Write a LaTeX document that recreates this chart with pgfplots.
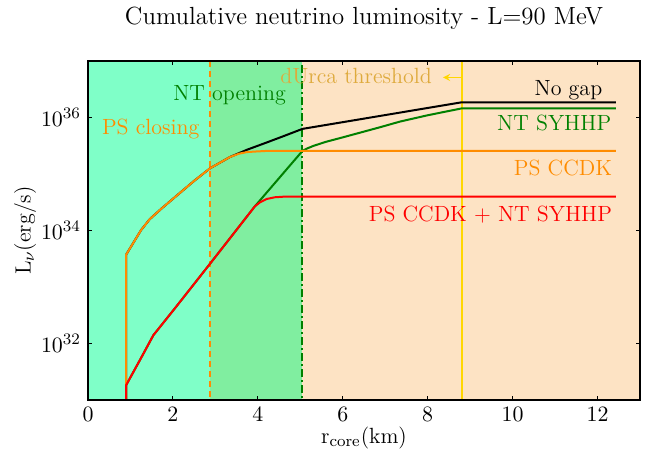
\documentclass[border=0pt]{standalone}
\usepackage{pgfplots}
\pgfplotsset{compat=1.18}
\definecolor{aqua}{RGB}{127,255,200}
\definecolor{midgreen}{RGB}{128,238,160}
\definecolor{peach}{RGB}{253,227,196}
\definecolor{dorange}{RGB}{255,140,0}
\definecolor{mgreen}{RGB}{0,128,0}
\definecolor{gold}{RGB}{255,215,0}
\definecolor{goldtext}{RGB}{222,170,60}

\begin{document}
\begin{tikzpicture}
\begin{axis}[
  scale only axis, width=276pt, height=169.5pt,
  xmin=0, xmax=13, ymode=log, ymin=1e31, ymax=1e37,
  xtick={0,2,...,12}, ytick={1e32,1e34,1e36}, yminorticks=false,
  tick align=inside, major tick length=2.2pt,
  axis on top, axis line style={line width=0.6pt},
  every tick/.style={black, line width=0.5pt},
  tick label style={font=\fontsize{11}{13}\selectfont},
  label style={font=\fontsize{11}{13}\selectfont},
  title={Cumulative neutrino luminosity - L=90 MeV},
  title style={font=\fontsize{12.4}{14}\selectfont, at={(axis description cs:0.5,1)}, anchor=base, yshift=12.5pt},
  xlabel={r$_{\mathrm{core}}$(km)},
  xlabel style={at={(axis description cs:0.5,-0.111)}, anchor=center},
  ylabel={L$_\nu$(erg/s)},
  ylabel style={at={(axis description cs:-0.114,0.5)}, anchor=center},
]
% background regions
\addplot[fill=aqua, draw=none] coordinates {(0,1e30) (2.88,1e30) (2.88,1e38) (0,1e38)} -- cycle;
\addplot[fill=midgreen, draw=none] coordinates {(2.88,1e30) (5.05,1e30) (5.05,1e38) (2.88,1e38)} -- cycle;
\addplot[fill=peach, draw=none] coordinates {(5.05,1e30) (13.5,1e30) (13.5,1e38) (5.05,1e38)} -- cycle;

% thresholds
\addplot[dorange, line width=1pt, dash pattern=on 3pt off 2pt] coordinates {(2.88,1e30) (2.88,1e38)};
\addplot[mgreen, line width=1pt, dash pattern=on 4pt off 1.5pt on 1pt off 1.5pt] coordinates {(5.05,1e30) (5.05,1e38)};
\addplot[gold, line width=1pt] coordinates {(8.8,1e30) (8.8,1e38)};

% No gap
\addplot[black, line width=1pt] coordinates {
  (0.895,1e30) (0.895,3.72e33) (1.25,1.02e34) (1.45,1.58e34) (1.70,2.34e34)
  (1.95,3.39e34) (2.17,4.68e34) (2.5,7.59e34) (2.87,1.26e35) (3.1,1.58e35)
  (3.34,2.0e35) (3.74,2.69e35) (4.21,3.63e35) (4.6,4.68e35) (5.05,6.31e35)
  (8.79,1.86e36) (12.43,1.86e36)};
% NT SYHHP
\addplot[mgreen, line width=1pt] coordinates {
  (0.895,1e30) (0.895,1.82e31) (1.26,5.75e31) (1.54,1.41e32) (2.01,3.89e32)
  (2.64,1.55e33) (2.87,2.57e33) (3.4,8.3e33) (3.93,2.69e34) (5.05,2.57e35)
  (5.15,2.82e35) (5.31,3.16e35) (5.6,3.72e35) (6.0,4.47e35) (6.88,6.76e35)
  (7.35,8.51e35) (8.0,1.10e36) (8.79,1.45e36) (12.43,1.45e36)};
% PS CCDK
\addplot[dorange, line width=1pt] coordinates {
  (0.895,1e30) (0.895,3.72e33) (1.25,1.02e34) (1.45,1.58e34) (1.70,2.34e34)
  (1.95,3.39e34) (2.17,4.68e34) (2.5,7.59e34) (2.87,1.26e35) (3.1,1.58e35)
  (3.34,2.0e35) (3.55,2.29e35) (3.74,2.45e35) (3.95,2.51e35) (4.2,2.57e35)
  (12.43,2.57e35)};
% PS CCDK + NT SYHHP
\addplot[red, line width=1pt] coordinates {
  (0.895,1e30) (0.895,1.82e31) (1.26,5.75e31) (1.54,1.41e32) (2.01,3.89e32)
  (2.64,1.55e33) (2.87,2.57e33) (3.4,8.3e33) (3.93,2.69e34) (4.05,3.16e34)
  (4.21,3.63e34) (4.4,3.89e34) (4.6,3.98e34) (12.43,3.98e34)};

% annotations
\node[anchor=base west, inner sep=0, text=dorange, font=\fontsize{11}{13}\selectfont] at (axis cs:0.322,5.01e35) {PS closing};
\node[anchor=base west, inner sep=0, text=mgreen, font=\fontsize{11}{13}\selectfont] at (axis cs:2.0,2.04e36) {NT opening};
\node[anchor=base west, inner sep=0, text=goldtext, font=\fontsize{11}{13}\selectfont] at (axis cs:4.52,3.98e36) {dUrca threshold};
\draw[gold, line width=0.6pt, -stealth] (axis cs:8.8,5.13e36) -- (axis cs:8.36,5.13e36);
\node[anchor=base east, inner sep=0, text=black, font=\fontsize{11}{13}\selectfont] at (axis cs:12.12,2.51e36) {No gap};
\node[anchor=base east, inner sep=0, text=mgreen, font=\fontsize{11}{13}\selectfont] at (axis cs:12.33,5.89e35) {NT SYHHP};
\node[anchor=base east, inner sep=0, text=dorange, font=\fontsize{11}{13}\selectfont] at (axis cs:12.35,9.33e34) {PS CCDK};
\node[anchor=base east, inner sep=0, text=red, font=\fontsize{11}{13}\selectfont] at (axis cs:12.35,1.45e34) {PS CCDK + NT SYHHP};
\end{axis}
\path ([shift={(-44pt,-27pt)}]current axis.south west) rectangle ([shift={(3.5pt,26pt)}]current axis.north east);
\end{tikzpicture}
\end{document}
